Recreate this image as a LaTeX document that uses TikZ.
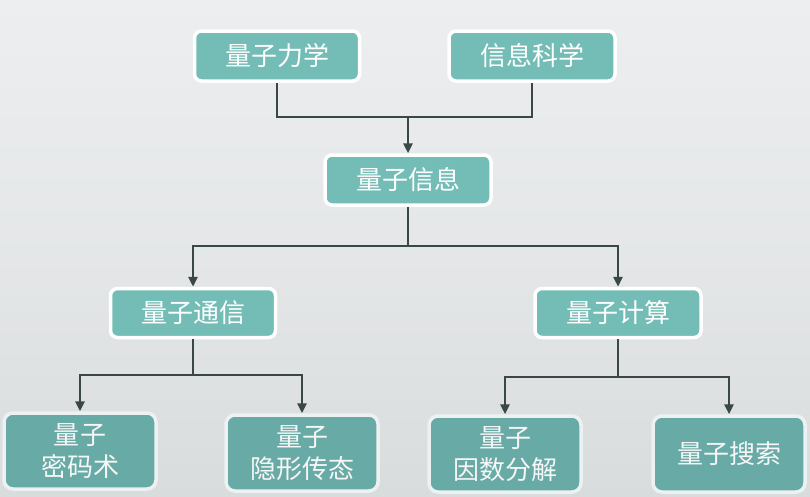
\documentclass[tikz,border=0pt]{standalone}
\usepackage{fontspec}
\setmainfont{Noto Sans CJK SC}
\usetikzlibrary{arrows.meta}
\definecolor{bgtop}{HTML}{ECEEEF}
\definecolor{bgbot}{HTML}{D9DCDD}
\definecolor{boxfill}{HTML}{74BDB6}
\definecolor{boxfilldark}{HTML}{68ABA6}
\definecolor{linec}{HTML}{3A4747}
\definecolor{rimdark}{HTML}{EEF1F1}
\tikzset{
  topbox/.style={draw=white, line width=3.5pt, fill=boxfill, rounded corners=7pt,
    text=white, font=\fontsize{26}{30}\selectfont, inner sep=0pt, align=center},
  lowbox/.style={draw=rimdark, line width=3.5pt, fill=boxfilldark, rounded corners=9pt,
    text=white!93!gray, font=\fontsize{26}{32}\selectfont, inner sep=0pt, align=center,
    minimum width=152pt, minimum height=76pt},
  conn/.style={draw=linec, line width=2.9pt},
  arr/.style={conn, -{Triangle[length=10pt,width=9pt]}},
}
\begin{document}
\begin{tikzpicture}[x=1pt,y=-1pt]
\shade[top color=bgtop, bottom color=bgbot, middle color=bgtop!60!bgbot] (0,0) rectangle (810,496);
\useasboundingbox (0,0) rectangle (810,496);
% top row
\node[topbox, minimum width=165pt, minimum height=50pt] (qm) at (277,56) {量子力学};
\node[topbox, minimum width=166pt, minimum height=50pt] (xx) at (532,56) {信息科学};
\node[topbox, minimum width=166pt, minimum height=50pt] (qi) at (408,180) {量子信息};
\node[topbox, minimum width=165pt, minimum height=49pt] (qc) at (193,313) {量子通信};
\node[topbox, minimum width=166pt, minimum height=49pt] (qp) at (618,313) {量子计算};
% bottom row
\node[lowbox] (b1) at (80,451) {量子\\密码术};
\node[lowbox] (b2) at (302,453) {量子\\隐形传态};
\node[lowbox] (b3) at (505,454) {量子\\因数分解};
\node[lowbox] (b4) at (729,454) {量子搜索};
% junction coordinates
\coordinate (j1) at (408,117);
\coordinate (j2) at (408,246);
\coordinate (j3) at (193,375);
\coordinate (j4) at (618,377);
% connectors
\draw[conn] (qm.south) |- (j1) -| (xx.south);
\draw[arr] (j1) -- (qi.north);
\draw[conn] (qi.south) -- (j2);
\draw[arr] (j2) -| (qc.north);
\draw[arr] (j2) -| (qp.north);
\draw[conn] (qc.south) -- (j3);
\draw[arr] (j3) -| (b1.north);
\draw[arr] (j3) -| (b2.north);
\draw[conn] (qp.south) -- (j4);
\draw[arr] (j4) -| (b3.north);
\draw[arr] (j4) -| (b4.north);
\end{tikzpicture}
\end{document}
